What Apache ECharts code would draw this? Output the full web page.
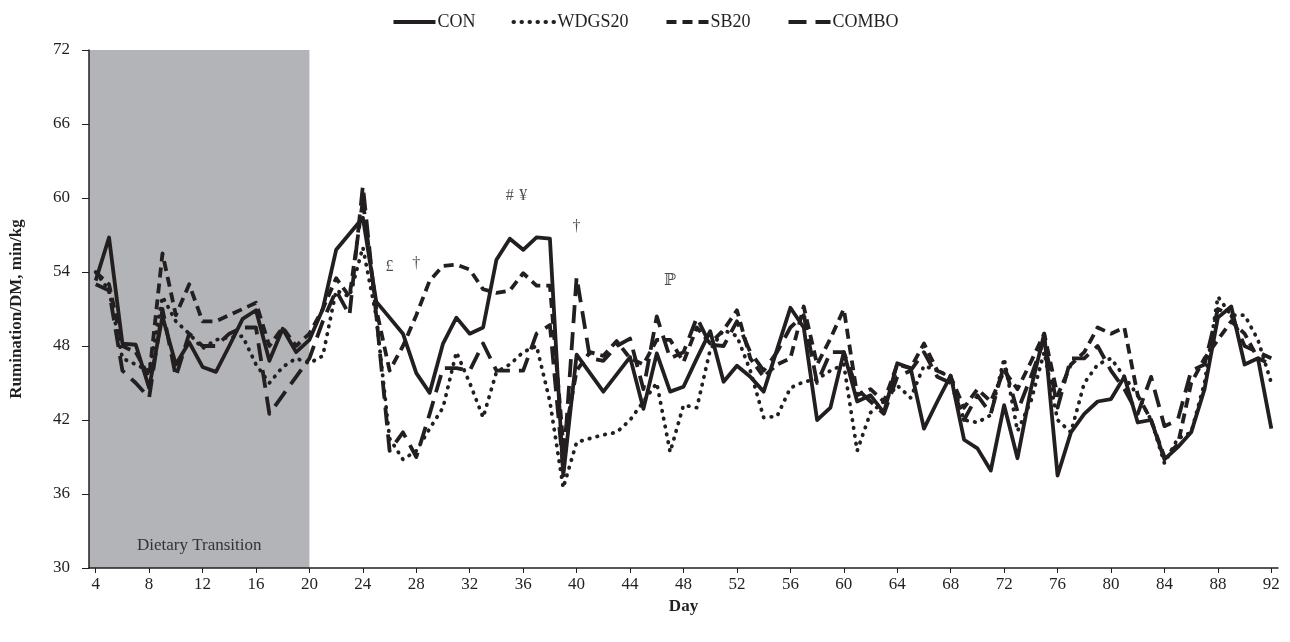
<!DOCTYPE html>
<html>
<head>
<meta charset="utf-8">
<script src="https://cdn.jsdelivr.net/npm/echarts@6/dist/echarts.min.js"></script>
<style>
  html, body { margin: 0; padding: 0; background: #fff; }
  #chart { width: 1290px; height: 642px; }
</style>
</head>
<body>
<div id="chart"></div>
<script>
// days 4..92
const days = [];
for (let d = 4; d <= 92; d++) days.push(String(d));

const con = [
  53.3, 56.8, 48.2, 48.1, 44.6, 50.4, 46.5, 48.3, 46.3, 45.9, 48.0, 50.2, 50.9, 46.8, 49.4, 47.5, 48.5,
  51.0, 55.8, 57.1, 58.4, 51.6, 50.3, 49.0, 45.8, 44.2, 48.2, 50.3, 49.0, 49.5, 55.0, 56.7, 55.8, 56.8, 56.7,
  37.5, 47.3, 45.8, 44.3, 45.7, 47.1, 42.9, 47.4, 44.3, 44.7, 47.0, 49.2, 45.1, 46.4, 45.5, 44.3, 47.7, 51.1,
  49.5, 42.0, 43.0, 47.5, 43.5, 44.0, 42.6, 46.6, 46.2, 41.3, 43.5, 45.6, 40.4, 39.7, 37.9, 43.2, 38.9, 44.5,
  49.0, 37.5, 41.0, 42.5, 43.5, 43.7, 45.5, 41.8, 42.0, 38.8, 39.8, 41.0, 44.5, 50.3, 51.2, 46.5, 47.0, 41.3
];
const wdgs20 = [
  54.0, 52.5, 47.0, 46.5, 46.0, 52.0, 50.0, 49.0, 47.8, 48.5, 48.7, 48.8, 46.5, 45.0, 46.3, 47.0, 46.6,
  47.2, 52.5, 52.0, 56.0, 50.4, 40.5, 38.8, 39.5, 41.3, 43.0, 47.5, 45.0, 42.2, 45.9, 46.5, 47.5, 48.0, 43.5,
  36.5, 40.2, 40.5, 40.8, 41.0, 42.0, 43.5, 45.0, 39.4, 43.2, 43.0, 47.7, 49.3, 48.8, 46.0, 42.2, 42.3, 44.6,
  45.1, 45.3, 46.0, 46.5, 39.5, 42.6, 43.5, 44.8, 43.8, 46.4, 46.0, 45.5, 42.0, 41.8, 42.4, 47.0, 41.1, 43.5,
  47.5, 42.0, 41.0, 45.0, 46.5, 47.0, 45.5, 44.0, 42.0, 38.5, 40.5, 41.0, 45.0, 52.0, 50.5, 50.5, 48.5, 45.0
];
const sb20 = [
  54.0, 53.0, 48.0, 47.5, 45.5, 55.5, 50.5, 53.0, 50.0, 50.0, 50.5, 51.0, 51.5, 48.0, 49.5, 48.0, 49.0,
  51.0, 53.5, 52.0, 59.8, 51.0, 46.0, 48.0, 50.5, 53.3, 54.5, 54.6, 54.2, 52.6, 52.3, 52.5, 53.9, 52.9, 52.9,
  40.0, 46.0, 47.5, 47.2, 48.4, 47.0, 46.5, 48.5, 48.5, 46.7, 49.5, 48.2, 49.3, 50.9, 47.0, 45.5, 46.5, 47.0,
  51.2, 46.5, 48.6, 51.0, 44.0, 44.5, 43.5, 46.5, 46.2, 48.2, 46.0, 45.5, 43.0, 44.5, 43.5, 46.0, 44.5, 46.7,
  49.0, 44.0, 46.5, 47.5, 49.5, 49.0, 49.5, 44.0, 42.0, 39.0, 40.0, 45.0, 47.0, 48.5, 50.0, 49.0, 47.0, 46.5
];
const combo = [
  53.0, 52.5, 46.0, 45.0, 43.8, 51.0, 45.5, 49.0, 48.0, 48.0, 49.0, 49.5, 49.5, 42.5, 44.0, 45.5, 47.0,
  50.0, 52.5, 50.5, 61.0, 50.5, 39.5, 41.0, 39.0, 42.5, 46.2, 46.2, 46.0, 48.2, 46.0, 46.0, 46.0, 49.0, 49.7,
  38.0, 53.6, 47.0, 46.8, 48.0, 48.6, 44.5, 50.4, 47.0, 47.5, 50.3, 48.1, 48.0, 50.0, 47.5, 46.0, 47.5, 49.5,
  50.5, 45.0, 47.5, 47.5, 44.5, 43.5, 42.5, 45.5, 46.0, 47.5, 45.5, 45.0, 42.0, 44.0, 42.5, 46.5, 42.7, 45.5,
  48.5, 43.0, 47.0, 47.0, 48.0, 46.0, 44.5, 42.5, 45.5, 41.5, 42.0, 46.0, 46.5, 51.0, 50.5, 48.0, 47.5, 47.0
];

// significance marks
const noteDays = ['26', '28', '35', '36', '40', '47', '57'];
const noteValues = [54.4, 54.7, 60.2, 60.2, 57.7, 53.3, 50.0];
const noteTexts = ['£', '†', '#', '¥', '†', 'ℙ', '*'];

const transitionEnd = '20';

const serif = '"Liberation Serif", "DejaVu Serif", serif';
const ink = '#231f20';

const chart = echarts.init(document.getElementById('chart'));

function lineSeries(name, data, style) {
  return {
    name: name,
    type: 'line',
    data: data,
    symbol: 'none',
    z: 3,
    lineStyle: Object.assign({ color: ink, width: 3.8, join: 'round' }, style),
    itemStyle: { color: ink }
  };
}

const option = {
  animation: false,
  textStyle: { fontFamily: serif, color: ink },
  legend: {
    top: 8,
    left: 'center',
    itemWidth: 42,
    itemHeight: 10,
    itemGap: 36,
    itemStyle: { opacity: 0 },
    lineStyle: { width: 4 },
    textStyle: { fontFamily: serif, fontSize: 18, color: ink, padding: [0, 0, 0, -3] },
    data: ['CON', 'WDGS20', 'SB20', 'COMBO']
  },
  grid: { left: 84, right: 12, top: 50, bottom: 74 },
  xAxis: {
    type: 'category',
    data: days,
    boundaryGap: true,
    name: 'Day',
    nameLocation: 'middle',
    nameGap: 30,
    nameTextStyle: { fontFamily: serif, fontSize: 17, fontWeight: 'bold', color: ink },
    axisLine: { lineStyle: { color: ink, width: 1.5 } },
    axisTick: { show: true, interval: 3, alignWithLabel: true, length: 5, lineStyle: { color: ink } },
    axisLabel: { interval: 3, fontFamily: serif, fontSize: 17, color: ink, margin: 8 }
  },
  yAxis: {
    type: 'value',
    min: 30,
    max: 72,
    interval: 6,
    name: 'Rumination/DM, min/kg',
    nameLocation: 'middle',
    nameGap: 64,
    nameTextStyle: { fontFamily: serif, fontSize: 17, fontWeight: 'bold', color: ink },
    axisLine: { show: true, lineStyle: { color: ink, width: 1.5 } },
    axisTick: { show: true, length: 7, lineStyle: { color: ink } },
    splitLine: { show: false },
    axisLabel: { fontFamily: serif, fontSize: 17, color: ink, margin: 19 }
  },
  series: [
    Object.assign(lineSeries('CON', con, { type: 'solid' }), {
      markArea: {
        silent: true,
        z: 0,
        itemStyle: { color: '#b3b4b7', opacity: 1 },
        label: {
          show: true,
          position: 'insideBottom',
          distance: 14,
          fontFamily: serif,
          fontSize: 17,
          color: '#333'
        },
        data: [[{ name: 'Dietary Transition', yAxis: 72 }, { xAxis: transitionEnd, yAxis: 30 }]]
      }
    }),
    lineSeries('WDGS20', wdgs20, { type: [0.5, 7.5], cap: 'round' }),
    lineSeries('SB20', sb20, { type: [10, 6] }),
    lineSeries('COMBO', combo, { type: [18, 9] }),
    {
      name: 'notes',
      type: 'scatter',
      symbolSize: 1,
      itemStyle: { color: 'rgba(0,0,0,0)' },
      z: 4,
      data: noteDays.map((d, i) => ({ value: [d, noteValues[i]], name: noteTexts[i] })),
      label: {
        show: true,
        position: 'inside',
        formatter: p => p.name,
        fontFamily: serif,
        fontSize: 16,
        color: ink
      }
    }
  ]
};

chart.setOption(option);
</script>
</body>
</html>
